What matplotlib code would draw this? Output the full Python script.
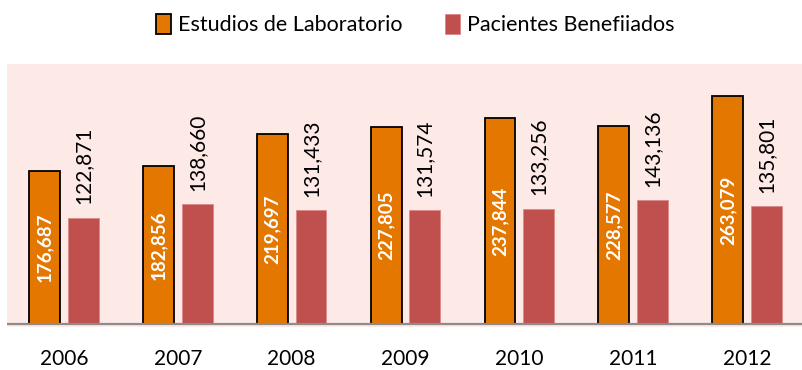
import matplotlib
matplotlib.use('Agg')
import numpy as np
import matplotlib.pyplot as plt

years = ['2006', '2007', '2008', '2009', '2010', '2011', '2012']
estudios = [176687, 182856, 219697, 227805, 237844, 228577, 263079]
pacientes = [122871, 138660, 131433, 131574, 133256, 143136, 135801]

orange = '#E37700'
red = '#C0504D'
pink_bg = '#FDEAE6'

plt.rcParams['font.family'] = ['Lato', 'DejaVu Sans']

fig = plt.figure(figsize=(8.03, 3.70), dpi=100)
ax = fig.add_axes([7 / 803, 43 / 370, 797 / 803, 263 / 370])
ax.set_facecolor(pink_bg)

x = np.arange(len(years))
w = 0.27
off = 0.17
b1 = ax.bar(x - off, estudios, w, color=orange, edgecolor='black', linewidth=1.3,
            label='Estudios de Laboratorio', zorder=3)
b2 = ax.bar(x + off, pacientes, w, color=red, edgecolor='#D98A88', linewidth=0.6,
            label='Pacientes Benefiiados', zorder=3)

# white values inside the orange bars, black values above the red ones
for xi, v in zip(x, estudios):
    ax.text(xi - off, v / 2, f'{v:,}', rotation=90, ha='center', va='center',
            color='white', fontsize=13.5, fontweight='bold', zorder=4)
for xi, v in zip(x, pacientes):
    ax.annotate(f'{v:,}', (xi + off, v), xytext=(0, 9.5), textcoords='offset points',
                rotation=90, ha='center', va='bottom', fontsize=15, color='black')

ax.axhline(0, color='#8C8C8C', linewidth=1.6, zorder=5)
ax.set_xlim(-0.5, len(years) - 0.5)
ax.set_ylim(-3500, 300300)
ax.set_xticks(x)
ax.set_xticklabels(years, fontsize=15)
ax.tick_params(axis='x', length=0, pad=16)
ax.set_yticks([])
for s in ax.spines.values():
    s.set_visible(False)

fig.legend(handles=[b1, b2], loc='upper center', bbox_to_anchor=(0.517, 1.015), ncol=2,
           frameon=False, fontsize=15.5, handlelength=0.7, handleheight=1.1,
           handletextpad=0.3, columnspacing=2.0)

fig.savefig('out.png', dpi=100, facecolor='white')
